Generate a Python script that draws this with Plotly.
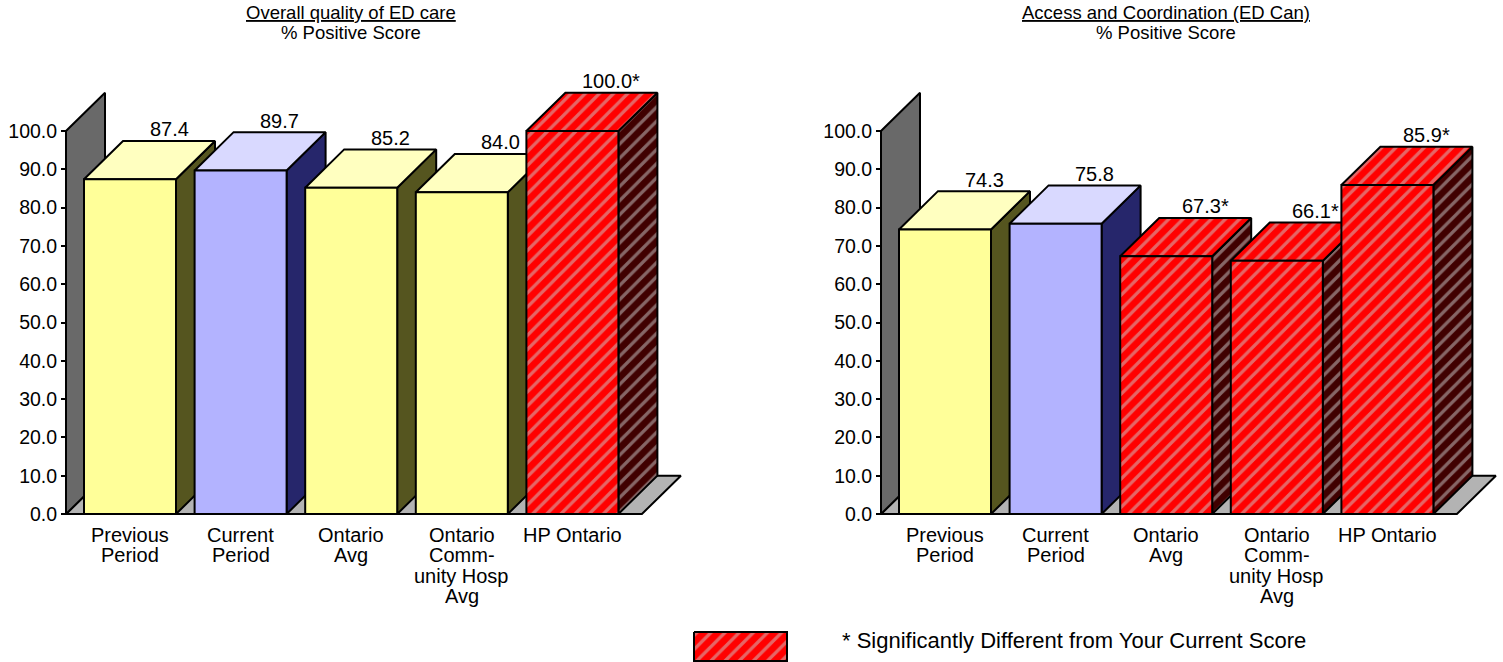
import plotly.graph_objects as go

# ---- data -------------------------------------------------------------
categories = ["Previous Period", "Current Period", "Ontario Avg",
              "Ontario Community Hosp Avg", "HP Ontario"]
category_lines = [["Previous", "Period"],
                  ["Current", "Period"],
                  ["Ontario", "Avg"],
                  ["Ontario", "Comm-", "unity Hosp", "Avg"],
                  ["HP Ontario"]]

overall_quality = [87.4, 89.7, 85.2, 84.0, 100.0]
overall_significant = [False, False, False, False, True]

access_coordination = [74.3, 75.8, 67.3, 66.1, 85.9]
access_significant = [False, False, True, True, True]

panel_titles = ["Overall quality of ED care", "Access and Coordination (ED Can)"]
panel_subtitle = "% Positive Score"

tick_values = [0, 10, 20, 30, 40, 50, 60, 70, 80, 90, 100]
tick_labels = ["0.0", "10.0", "20.0", "30.0", "40.0", "50.0",
               "60.0", "70.0", "80.0", "90.0", "100.0"]
axis_max = 100

legend_text = "* Significantly Different from Your Current Score"

# ---- page geometry ----------------------------------------------------
W, H = 1503, 662
PX_PER_CAT = 110.6          # horizontal pixels per category
PX_PER_UNIT = 3.83          # vertical pixels per percentage point
BASE_PX = 514               # pixel row of the 0.0 baseline
PANEL_FIRST_CAT_PX = [130, 945]   # pixel column of first category centre
PANEL_DOMAINS = [(0.0, 0.5), (0.5, 1.0)]

BAR_W = 92 / PX_PER_CAT     # front face width (category units)
DX = 39 / PX_PER_CAT        # depth offset, horizontal
DY = 10.0                   # depth offset, vertical (value units)
WALL_X = -64 / PX_PER_CAT   # front edge of side wall
FLOOR_X = 4 + 69.5 / PX_PER_CAT

FONT = "Liberation Sans, Arial, sans-serif"
OUTLINE = dict(color="black", width=2)

STYLES = {
    "prev": dict(front="#FFFF99", top="#FFFFC0", side="#55551F"),
    "curr": dict(front="#B3B3FF", top="#D9D9FF", side="#26266B"),
    "sig": dict(front="#FF0000", top="#FF0000", side="#400000"),
}
STRIPE = "#CCCCCC"
HATCH = dict(shape="/", fgcolor=STRIPE, size=10, solidity=0.33)
WALL_COLOR = "#696969"
FLOOR_COLOR = "#B3B3B3"

fig = go.Figure()


def polygon(xs, ys, xa, ya, color, hatched=False):
    kw = dict(x=list(xs) + [xs[0]], y=list(ys) + [ys[0]], mode="lines",
              fill="toself", fillcolor=color, line=OUTLINE,
              hoverinfo="skip", showlegend=False, xaxis=xa, yaxis=ya)
    if hatched:
        kw["fillpattern"] = dict(HATCH, bgcolor=color)
    fig.add_trace(go.Scatter(**kw))


def draw_panel(p, values, significant):
    xa = "x" if p == 0 else "x%d" % (p + 1)
    ya = "y" if p == 0 else "y%d" % (p + 1)

    # floor and side wall
    polygon([WALL_X, FLOOR_X, FLOOR_X + DX, WALL_X + DX],
            [0, 0, DY, DY], xa, ya, FLOOR_COLOR)
    polygon([WALL_X, WALL_X + DX, WALL_X + DX, WALL_X],
            [0, DY, axis_max + DY, axis_max], xa, ya, WALL_COLOR)

    # bars, left to right so each front face covers its neighbour's side
    for i, (v, sig) in enumerate(zip(values, significant)):
        key = "sig" if sig else ("curr" if i == 1 else "prev")
        st = STYLES[key]
        xl, xr = i - BAR_W / 2, i + BAR_W / 2
        polygon([xr, xr + DX, xr + DX, xr], [0, DY, v + DY, v],
                xa, ya, st["side"], sig)
        polygon([xl, xr, xr + DX, xl + DX], [v, v, v + DY, v + DY],
                xa, ya, st["top"], sig)
        polygon([xl, xr, xr, xl], [0, 0, v, v], xa, ya, st["front"], sig)

        label = "%.1f" % v + ("*" if sig else "")
        fig.add_annotation(x=i + DX, y=v + DY, xref=xa, yref=ya, text=label,
                           showarrow=False, xanchor="center",
                           yanchor="middle", yshift=11.5,
                           font=dict(size=20, color="black", family=FONT))

    # category labels, one line at a time
    for i, lines in enumerate(category_lines):
        for k, line in enumerate(lines):
            fig.add_annotation(x=i, y=0, xref=xa, yref=ya, text=line,
                               showarrow=False, xanchor="center",
                               yanchor="middle",
                               yshift=-(20.5 + 20.5 * k),
                               font=dict(size=20, color="black", family=FONT))

    # axes
    c0 = PANEL_FIRST_CAT_PX[p]
    d0, d1 = PANEL_DOMAINS[p]
    x_range = [(d0 * W - c0) / PX_PER_CAT, (d1 * W - c0) / PX_PER_CAT]
    y_range = [-(H - BASE_PX) / PX_PER_UNIT, BASE_PX / PX_PER_UNIT]
    wall_px = c0 + WALL_X * PX_PER_CAT
    suffix = "" if p == 0 else str(p + 1)
    fig.update_layout(**{
        "xaxis" + suffix: dict(domain=[d0, d1], range=x_range, visible=False,
                               anchor=ya, fixedrange=True),
        "yaxis" + suffix: dict(domain=[0, 1], range=y_range, anchor="free",
                               position=wall_px / W, tickvals=tick_values,
                               ticktext=tick_labels, ticks="outside",
                               ticklen=5, tickwidth=2, tickcolor="black",
                               showgrid=False, zeroline=False, showline=False,
                               tickfont=dict(size=19.5, color="black",
                                             family=FONT),
                               fixedrange=True),
    })

    # panel title
    title_px = wall_px + 285
    fig.add_annotation(x=title_px / W, y=1 - 12.5 / H, xref="paper",
                       yref="paper", text="<u>%s</u>" % panel_titles[p],
                       showarrow=False, xanchor="center", yanchor="middle",
                       borderpad=0,
                       font=dict(size=18.5, color="black", family=FONT))
    fig.add_annotation(x=title_px / W, y=1 - 33 / H, xref="paper",
                       yref="paper", text=panel_subtitle,
                       showarrow=False, xanchor="center", yanchor="middle",
                       borderpad=0,
                       font=dict(size=18.5, color="black", family=FONT))


draw_panel(0, overall_quality, overall_significant)
draw_panel(1, access_coordination, access_significant)

# legend swatch on a full-page pixel overlay
SWATCH = dict(x0=694, x1=787, y0=632, y1=661)
fig.add_trace(go.Scatter(
    x=[SWATCH["x0"], SWATCH["x1"], SWATCH["x1"], SWATCH["x0"], SWATCH["x0"]],
    y=[SWATCH["y0"], SWATCH["y0"], SWATCH["y1"], SWATCH["y1"], SWATCH["y0"]],
    mode="lines", fill="toself", fillcolor=STYLES["sig"]["front"],
    fillpattern=dict(HATCH, bgcolor=STYLES["sig"]["front"]),
    line=OUTLINE, hoverinfo="skip", showlegend=False,
    xaxis="x3", yaxis="y3"))
fig.add_annotation(x=840 / W, y=1 - 640.5 / H, xref="paper", yref="paper",
                   text=legend_text, showarrow=False, xanchor="left",
                   yanchor="middle",
                   font=dict(size=22, color="black", family=FONT))

fig.update_layout(
    width=W, height=H,
    margin=dict(l=0, r=0, t=0, b=0, pad=0),
    paper_bgcolor="white", plot_bgcolor="rgba(0,0,0,0)",
    showlegend=False,
    xaxis3=dict(domain=[0, 1], range=[0, W], visible=False, anchor="y3",
                fixedrange=True),
    yaxis3=dict(domain=[0, 1], range=[H, 0], visible=False, anchor="x3",
                fixedrange=True),
    font=dict(family=FONT, color="black"),
)

fig.write_html("out.html", config={"displayModeBar": False})
